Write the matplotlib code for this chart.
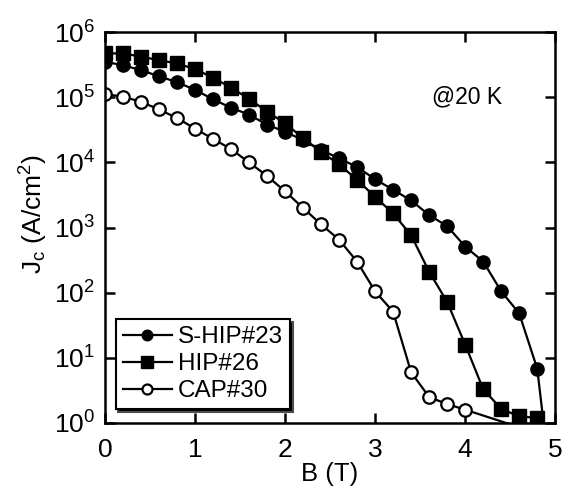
import numpy as np
import matplotlib
matplotlib.use("Agg")
import matplotlib.pyplot as plt
from matplotlib.ticker import LogLocator, NullLocator

plt.rcParams["font.family"] = ["Liberation Sans", "DejaVu Sans"]
plt.rcParams["mathtext.fontset"] = "custom"
plt.rcParams["mathtext.rm"] = "Liberation Sans"
plt.rcParams["mathtext.it"] = "Liberation Sans"
plt.rcParams["mathtext.default"] = "regular"

# field values (T)
b_shi = [0.0, 0.2, 0.4, 0.6, 0.8, 1.0, 1.2, 1.4, 1.6, 1.8, 2.0, 2.2, 2.4, 2.6,
         2.8, 3.0, 3.2, 3.4, 3.6, 3.8, 4.0, 4.2, 4.4, 4.6, 4.8, 5.0]
jc_shi = [3.5e5, 3.1e5, 2.6e5, 2.1e5, 1.7e5, 1.3e5, 9.3e4, 6.9e4, 5.4e4, 3.8e4,
          2.95e4, 2.2e4, 1.55e4, 1.15e4, 8.5e3, 5.5e3, 3.8e3, 2.6e3, 1.55e3,
          1.05e3, 510, 300, 105, 48, 6.8, 0.03]

b_hip = [0.0, 0.2, 0.4, 0.6, 0.8, 1.0, 1.2, 1.4, 1.6, 1.8, 2.0, 2.2, 2.4, 2.6,
         2.8, 3.0, 3.2, 3.4, 3.6, 3.8, 4.0, 4.2, 4.4, 4.6, 4.8]
jc_hip = [4.7e5, 4.7e5, 4.2e5, 3.7e5, 3.3e5, 2.7e5, 2.0e5, 1.4e5, 9.5e4, 6.0e4,
          4.0e4, 2.35e4, 1.45e4, 9.3e3, 5.4e3, 2.95e3, 1.65e3, 760, 210, 72,
          16, 3.3, 1.65, 1.26, 1.2]

b_cap = [0.0, 0.2, 0.4, 0.6, 0.8, 1.0, 1.2, 1.4, 1.6, 1.8, 2.0, 2.2, 2.4, 2.6,
         2.8, 3.0, 3.2, 3.4, 3.6, 3.8, 4.0, 4.8]
jc_cap = [1.12e5, 1.02e5, 8.5e4, 6.5e4, 4.8e4, 3.3e4, 2.3e4, 1.6e4, 1.0e4, 6.2e3,
          3.6e3, 2.0e3, 1.12e3, 650, 300, 105, 51, 6.0, 2.5, 1.95, 1.6, 0.7]

fig = plt.figure(figsize=(5.76, 4.93), dpi=100)
ax = fig.add_axes([0.182, 0.142, 0.782, 0.793])

lw = 1.6
ax.plot(b_shi, jc_shi, "k-", marker="o", ms=9.5, lw=lw, mfc="black", mec="black",
        label="S-HIP#23")
ax.plot(b_hip, jc_hip, "k-", marker="s", ms=10.5, lw=lw, mfc="black", mec="black",
        label="HIP#26")
ax.plot(b_cap, jc_cap, "k-", marker="o", ms=9, lw=lw, mfc="white", mec="black",
        mew=1.6, label="CAP#30")

ax.set_yscale("log")
ax.set_xlim(0, 5)
ax.set_ylim(1, 1e6)
ax.yaxis.set_major_locator(LogLocator(base=10, numticks=10))
ax.yaxis.set_minor_locator(NullLocator())
ax.set_xticks([0, 1, 2, 3, 4, 5])

for s in ax.spines.values():
    s.set_linewidth(1.8)
ax.tick_params(which="both", direction="in", top=True, right=True,
               length=7, width=1.8, labelsize=19)
ax.tick_params(axis="y", pad=7)
ax.tick_params(axis="x", pad=11)

ax.set_xlabel("B (T)", fontsize=18.5, labelpad=0)
fig.text(34 / 576, 1 - 214 / 493, r"J$_\mathregular{c}$ (A/cm$^\mathregular{2}$)",
         fontsize=19, rotation=90, ha="center", va="center")

ax.text(4.02, 1e5, "@20 K", fontsize=16.5, ha="center", va="center")

leg = ax.legend(loc="lower left", bbox_to_anchor=(0.024, 0.035), borderaxespad=0,
                fontsize=17.5, frameon=True, fancybox=False, edgecolor="black",
                handlelength=2.0, handletextpad=0.25, labelspacing=0.2,
                borderpad=0.3, markerscale=0.8,
                shadow={"ox": 2, "oy": -2, "facecolor": "black", "alpha": 1})
leg.get_frame().set_linewidth(1.5)
leg.get_frame().set_alpha(1)

plt.savefig("out.png", dpi=100)
